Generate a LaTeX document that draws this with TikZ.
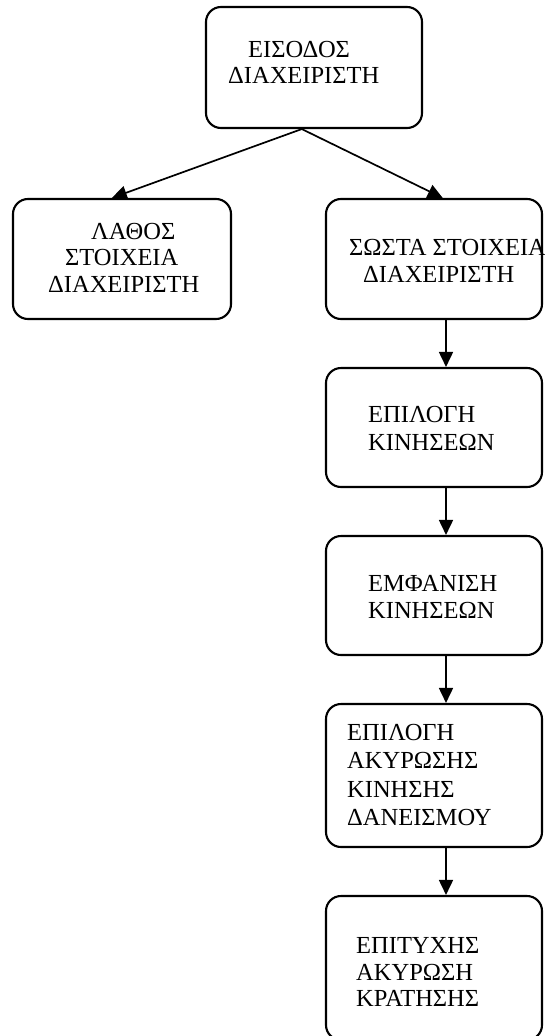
\documentclass[tikz,border=0pt]{standalone}
\usepackage{fontspec}
\setmainfont{Liberation Serif}
\usetikzlibrary{arrows.meta,calc}

\tikzset{
  box/.style={draw, line width=2.1pt, rounded corners=15pt, inner sep=0pt},
  txt/.style={anchor=base west, inner sep=0pt, font=\fontsize{24.5}{28}\selectfont},
  link/.style={line width=1.7pt, -{Triangle[length=15pt,width=14pt]}}
}

\begin{document}
\begin{tikzpicture}[x=1pt, y=-1pt]
  \useasboundingbox (0,0) rectangle (544,1036);
  \clip (0,0) rectangle (544,1036);

  % boxes
  \node[box, minimum width=216pt, minimum height=121pt] (b0) at (314,67.5) {};
  \node[box, minimum width=218pt, minimum height=120pt] (bL) at (122,259) {};
  \node[box, minimum width=216pt, minimum height=120pt] (bR) at (434,259) {};
  \node[box, minimum width=216pt, minimum height=119pt] (b3) at (434,427.5) {};
  \node[box, minimum width=216pt, minimum height=119pt] (b4) at (434,595.5) {};
  \node[box, minimum width=216pt, minimum height=143pt] (b5) at (434,775.5) {};
  \node[box, minimum width=216pt, minimum height=144pt] (b6) at (434,968) {};

  % labels
  \node[txt] (t0a) at (248,57) {ΕΙΣΟΔΟΣ};
  \node[txt] (t0b) at (228,83) {ΔΙΑΧΕΙΡΙΣΤΗ};

  \node[txt] (tLa) at (91,239) {ΛΑΘΟΣ};
  \node[txt] (tLb) at (65,265) {ΣΤΟΙΧΕΙΑ};
  \node[txt] (tLc) at (48,292) {ΔΙΑΧΕΙΡΙΣΤΗ};

  \node[txt] (tRa) at (349,255) {ΣΩΣΤΑ ΣΤΟΙΧΕΙΑ};
  \node[txt] (tRb) at (363,282) {ΔΙΑΧΕΙΡΙΣΤΗ};

  \node[txt] (t3a) at (368,422) {ΕΠΙΛΟΓΗ};
  \node[txt] (t3b) at (368,450) {ΚΙΝΗΣΕΩΝ};

  \node[txt] (t4a) at (368,591) {ΕΜΦΑΝΙΣΗ};
  \node[txt] (t4b) at (368,618) {ΚΙΝΗΣΕΩΝ};

  \node[txt] (t5a) at (347,740) {ΕΠΙΛΟΓΗ};
  \node[txt] (t5b) at (347,768) {ΑΚΥΡΩΣΗΣ};
  \node[txt] (t5c) at (347,797) {ΚΙΝΗΣΗΣ};
  \node[txt] (t5d) at (347,825) {ΔΑΝΕΙΣΜΟΥ};

  \node[txt] (t6a) at (356,953) {ΕΠΙΤΥΧΗΣ};
  \node[txt] (t6b) at (356,980) {ΑΚΥΡΩΣΗ};
  \node[txt] (t6c) at (356,1006) {ΚΡΑΤΗΣΗΣ};

  % connectors
  \coordinate (s0) at ($(b0.south west)!0.444!(b0.south east)$);
  \draw[link] (s0) -- ($(bL.north west)!0.454!(bL.north east)$);
  \draw[link] (s0) -- ($(bR.north west)!0.54!(bR.north east)$);
  \draw[link] ([xshift=12pt]bR.south) -- ([xshift=12pt]b3.north);
  \draw[link] ([xshift=12pt]b3.south) -- ([xshift=12pt]b4.north);
  \draw[link] ([xshift=12pt]b4.south) -- ([xshift=12pt]b5.north);
  \draw[link] ([xshift=12pt]b5.south) -- ([xshift=12pt]b6.north);
\end{tikzpicture}
\end{document}
